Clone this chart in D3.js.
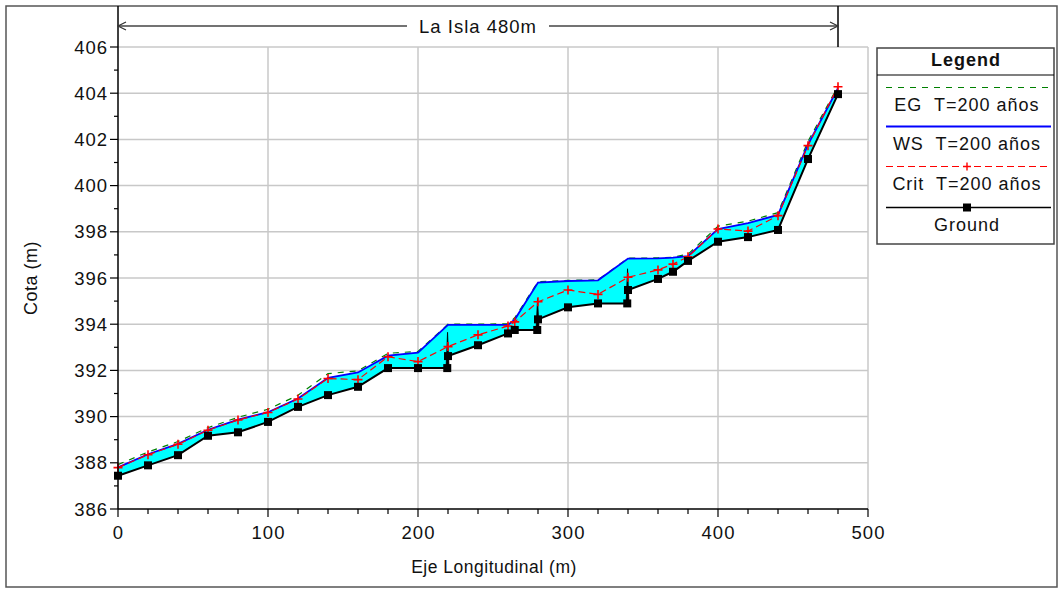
<!DOCTYPE html>
<html>
<head>
<meta charset="utf-8">
<script src="https://cdn.jsdelivr.net/npm/d3@7/dist/d3.min.js"></script>
<style>
body { margin: 0; background: #fff; }
text { font-family: "Liberation Sans", Arial, sans-serif; fill: #111; letter-spacing: 1px; white-space: pre; }
</style>
</head>
<body>
<svg id="chart" width="1060" height="590"></svg>
<script>
// profile data (station m, elevation m)
var groundX = [0,20,40,60,80,100,120,140,160,180,200,219.5,220,240,260,264.5,279.5,280,300,320,339.5,340,360,370,380,400,420,440,460,480];
var groundY = [387.44,387.89,388.33,389.17,389.32,389.77,390.42,390.93,391.29,392.10,392.10,392.10,392.62,393.09,393.60,393.75,393.75,394.21,394.73,394.90,394.90,395.48,395.96,396.27,396.74,397.57,397.77,398.08,401.15,403.96];

var profX = [0,20,40,60,80,100,120,140,160,180,200,220,240,260,264.5,280,300,320,340,360,370,380,400,420,440,460,480];
var wsY   = [387.80,388.37,388.82,389.43,389.87,390.19,390.78,391.68,391.91,392.64,392.77,393.97,393.97,393.97,394.20,395.80,395.87,395.90,396.84,396.85,396.88,396.95,398.12,398.38,398.73,401.78,404.22];
var critY = [387.79,388.35,388.80,389.41,389.85,390.18,390.76,391.65,391.60,392.59,392.38,393.03,393.54,393.92,394.10,394.97,395.48,395.29,396.03,396.35,396.60,396.92,398.12,398.03,398.70,401.73,404.28];
var egY   = [387.92,388.47,388.92,389.52,389.97,390.32,390.92,391.86,391.98,392.74,392.82,394.00,394.00,394.02,394.28,395.84,395.90,395.92,396.86,396.87,396.90,397.03,398.24,398.46,398.83,401.92,404.30];

// drop structures
var structX = [219.7,279.7,339.7];
var structBottom = [392.10,393.75,394.90];
var structTop = [393.65,395.12,396.40];

var xTicks = [0,100,200,300,400,500];
var yTicks = [386,388,390,392,394,396,398,400,402,404,406];

var legendItems = ["EG  T=200 años","WS  T=200 años","Crit  T=200 años","Ground"];
var reachTitle = "La Isla 480m";
var reachLength = 480;

var svg = d3.select("#chart");
var x = d3.scaleLinear().domain([0,500]).range([118,868]);
var y = d3.scaleLinear().domain([386,406]).range([509,47]);

// outer frame
svg.append("rect").attr("x",6).attr("y",6).attr("width",1051).attr("height",581)
	.attr("fill","none").attr("stroke","#555").attr("stroke-width",1.5);

// grid
svg.append("g").selectAll("line").data(yTicks.slice(1)).enter().append("line")
	.attr("x1",x(0)).attr("x2",x(500))
	.attr("y1",function(d){ return y(d); }).attr("y2",function(d){ return y(d); })
	.attr("stroke","#c8c8c8").attr("stroke-width",1.5);
svg.append("g").selectAll("line").data(xTicks.slice(1)).enter().append("line")
	.attr("x1",function(d){ return x(d); }).attr("x2",function(d){ return x(d); })
	.attr("y1",y(406)).attr("y2",y(386))
	.attr("stroke","#c8c8c8").attr("stroke-width",1.5);

// water fill between ws and ground
var wsPts = profX.map(function(d,i){ return [d, wsY[i]]; });
var grPts = groundX.map(function(d,i){ return [d, groundY[i]]; });
var line = d3.line().x(function(d){ return x(d[0]); }).y(function(d){ return y(d[1]); });
svg.append("path").attr("d", line(wsPts.concat(grPts.slice().reverse())) + "Z")
	.attr("fill","#00ffff").attr("stroke","none");

// structures
svg.append("g").selectAll("path").data(structX).enter().append("path")
	.attr("d",function(d,i){
		return "M"+(x(d)-1.5)+","+y(structBottom[i])+"L"+x(d)+","+y(structTop[i])+"L"+(x(d)+1.5)+","+y(structBottom[i])+"Z";
	})
	.attr("fill","#000").attr("stroke","#000").attr("stroke-width",0.8);

// ground
svg.append("path").attr("d",line(grPts)).attr("fill","none").attr("stroke","#000").attr("stroke-width",2);

// EG
svg.append("path").attr("d",line(profX.map(function(d,i){ return [d, egY[i]]; })))
	.attr("fill","none").attr("stroke","#008000").attr("stroke-width",1.2).attr("stroke-dasharray","6,6");
// WS
svg.append("path").attr("d",line(wsPts)).attr("fill","none").attr("stroke","#0000ff").attr("stroke-width",1.8);
// Crit
var critPts = profX.map(function(d,i){ return [d, critY[i]]; });
svg.append("path").attr("d",line(critPts)).attr("fill","none").attr("stroke","#ff0000").attr("stroke-width",1.2).attr("stroke-dasharray","7,4");
svg.append("g").selectAll("path").data(critPts).enter().append("path")
	.attr("d",function(d){ var cx=x(d[0]), cy=y(d[1]); return "M"+(cx-4.5)+","+cy+"H"+(cx+4.5)+"M"+cx+","+(cy-4.5)+"V"+(cy+4.5); })
	.attr("stroke","#ff0000").attr("stroke-width",1.6);
// ground markers
svg.append("g").selectAll("rect").data(grPts).enter().append("rect")
	.attr("x",function(d){ return x(d[0])-4; }).attr("y",function(d){ return y(d[1])-4; })
	.attr("width",8).attr("height",8).attr("fill","#000");

// axes
svg.append("line").attr("x1",118).attr("x2",118).attr("y1",6).attr("y2",y(386)).attr("stroke","#000").attr("stroke-width",1.5);
svg.append("line").attr("x1",118).attr("x2",x(500)).attr("y1",y(386)).attr("y2",y(386)).attr("stroke","#000").attr("stroke-width",1.5);

var yMinor = d3.range(386,407,1);
svg.append("g").selectAll("line").data(yMinor).enter().append("line")
	.attr("x1",function(d){ return d%2===0 ? 110 : 114; }).attr("x2",118)
	.attr("y1",function(d){ return y(d); }).attr("y2",function(d){ return y(d); })
	.attr("stroke","#000").attr("stroke-width",1.2);
svg.append("g").selectAll("text").data(yTicks).enter().append("text")
	.attr("x",108).attr("y",function(d){ return y(d); }).attr("dy","0.36em")
	.attr("text-anchor","end").style("font-size","18.5px").text(function(d){ return d; });

var xMinor = d3.range(0,501,20);
svg.append("g").selectAll("line").data(xMinor).enter().append("line")
	.attr("x1",function(d){ return x(d); }).attr("x2",function(d){ return x(d); })
	.attr("y1",y(386)).attr("y2",function(d){ return d%100===0 ? y(386)+8 : y(386)+5; })
	.attr("stroke","#000").attr("stroke-width",1.2);
svg.append("g").selectAll("text").data(xTicks).enter().append("text")
	.attr("x",function(d){ return x(d)+0.5; }).attr("y",532).attr("dy","0.36em")
	.attr("text-anchor","middle").style("font-size","18.5px").text(function(d){ return d; });

svg.append("text").attr("x",494).attr("y",567).attr("dy","0.36em").attr("text-anchor","middle")
	.style("font-size","17.5px").style("letter-spacing","0.5px").text("Eje Longitudinal (m)");
svg.append("text").attr("transform","translate(31,278) rotate(-90)").attr("dy","0.36em").attr("text-anchor","middle")
	.style("font-size","18px").style("letter-spacing","0.5px").text("Cota (m)");

// reach length arrow
var xa = x(0), xb = x(reachLength), ya = 26;
svg.append("line").attr("x1",xb).attr("x2",xb).attr("y1",6).attr("y2",y(406)).attr("stroke","#000").attr("stroke-width",1.5);
var tt = svg.append("text").attr("x",(xa+xb)/2).attr("y",ya).attr("dy","0.36em").attr("text-anchor","middle")
	.style("font-size","18.5px").text(reachTitle);
var tw = tt.node().getComputedTextLength();
svg.append("line").attr("x1",xa).attr("x2",(xa+xb)/2-tw/2-12).attr("y1",ya).attr("y2",ya).attr("stroke","#444").attr("stroke-width",1.3);
svg.append("line").attr("x1",(xa+xb)/2+tw/2+12).attr("x2",xb).attr("y1",ya).attr("y2",ya).attr("stroke","#444").attr("stroke-width",1.3);
svg.append("path").attr("d","M"+(xa+8)+","+(ya-4)+"L"+xa+","+ya+"L"+(xa+8)+","+(ya+4)+"M"+(xb-8)+","+(ya-4)+"L"+xb+","+ya+"L"+(xb-8)+","+(ya+4))
	.attr("fill","none").attr("stroke","#333").attr("stroke-width",1.2);

// legend
var lg = svg.append("g");
lg.append("rect").attr("x",877).attr("y",48).attr("width",177).attr("height",196)
	.attr("fill","#fff").attr("stroke","#444").attr("stroke-width",1.5);
lg.append("line").attr("x1",877).attr("x2",1054).attr("y1",75).attr("y2",75).attr("stroke","#000").attr("stroke-width",1.2);
lg.append("text").attr("x",966).attr("y",60).attr("dy","0.36em").attr("text-anchor","middle")
	.style("font-size","18px").style("font-weight","bold").text("Legend");
var lineYs = [87.5,126.5,166.5,207.5];
var styles = [["#008000","6,6",1.2],["#0000ff",null,1.8],["#ff0000","7,4",1.2],["#000",null,1.5]];
lg.selectAll(".ll").data(legendItems).enter().append("line")
	.attr("x1",886).attr("x2",1051)
	.attr("y1",function(d,i){ return lineYs[i]; }).attr("y2",function(d,i){ return lineYs[i]; })
	.attr("stroke",function(d,i){ return styles[i][0]; })
	.attr("stroke-dasharray",function(d,i){ return styles[i][1]; })
	.attr("stroke-width",function(d,i){ return styles[i][2]; });
lg.append("path").attr("d","M963,166.5H971M967,162.5V170.5").attr("stroke","#ff0000").attr("stroke-width",1.4);
lg.append("rect").attr("x",963).attr("y",203.5).attr("width",8).attr("height",8).attr("fill","#000");
lg.selectAll(".lt").data(legendItems).enter().append("text")
	.attr("x",967).attr("y",function(d,i){ return lineYs[i]+17.5; }).attr("dy","0.36em")
	.attr("text-anchor","middle").style("font-size","18px").text(function(d){ return d; });
</script>
</body>
</html>
